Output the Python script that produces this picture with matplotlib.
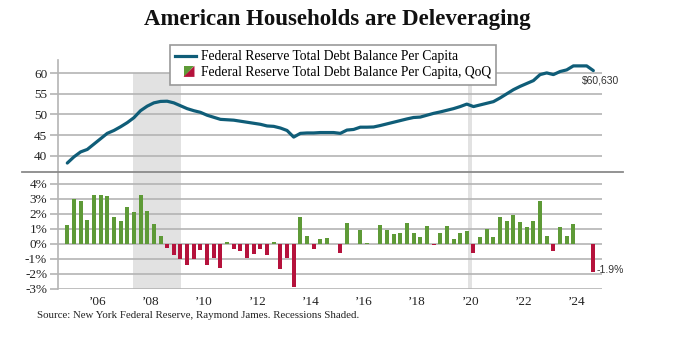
import matplotlib
matplotlib.use("Agg")
import matplotlib.pyplot as plt
from matplotlib.legend_handler import HandlerBase
from matplotlib.lines import Line2D
from matplotlib.patches import Polygon
import numpy as np

# quarterly, 2004 Q4 .. 2024 Q3
debt_per_capita = [
    38.2, 39.7, 40.9, 41.5, 42.8, 44.1, 45.4, 46.1, 47.0, 48.0,
    49.2, 50.9, 52.0, 52.8, 53.15, 53.2, 52.8, 52.1, 51.4, 50.9,
    50.5, 49.8, 49.3, 48.8, 48.7, 48.6, 48.35, 48.1, 47.85, 47.6,
    47.2, 47.1, 46.7, 46.1, 44.5, 45.4, 45.5, 45.5, 45.6, 45.6,
    45.6, 45.4, 46.2, 46.35, 46.9, 46.9, 46.95, 47.3, 47.7, 48.1,
    48.5, 48.9, 49.25, 49.35, 49.8, 50.25, 50.6, 51.0, 51.4, 51.9,
    52.5, 51.9, 52.3, 52.7, 53.1, 54.0, 55.0, 56.0, 56.8, 57.5,
    58.2, 59.66, 60.07, 59.66, 60.4, 60.8, 61.77, 61.77, 61.77, 60.63,
]
qoq_pct = [
    1.22, 2.96, 2.87, 1.58, 3.27, 3.27, 3.16, 1.76, 1.53, 2.44,
    2.11, 3.27, 2.18, 1.29, 0.51, -0.27, -0.73, -1.0, -1.4, -1.0,
    -0.44, -1.4, -0.96, -1.62, 0.13, -0.33, -0.47, -0.96, -0.69, -0.33,
    -0.76, 0.11, -1.69, -0.93, -2.89, 1.78, 0.51, -0.38, 0.29, 0.36,
    0.0, -0.6, 1.36, 0.0, 0.93, 0.07, 0.0, 1.24, 0.89, 0.62,
    0.69, 1.38, 0.73, 0.44, 1.2, -0.1, 0.69, 1.18, 0.33, 0.73,
    0.87, -0.6, 0.44, 1.0, 0.44, 1.8, 1.49, 1.93, 1.44, 1.11,
    1.51, 2.84, 0.53, -0.47, 1.13, 0.53, 1.31, 0.0, -0.05, -1.91,
]
year_labels = ["\u201906", "\u201908", "\u201910", "\u201912", "\u201914",
               "\u201916", "\u201918", "\u201920", "\u201922", "\u201924"]
first_label_pos = 4.55  # quarter index of the first year label
recessions = [(9.9, 17.07), (60.2, 60.8)]

TEAL = "#0f5d78"
GREEN = "#5e9a37"
RED = "#b5123c"
GRID = "#b4b4b4"
SHADE = "#e2e2e2"
SERIF = "Liberation Serif"
SANS = "Liberation Sans"

x = np.arange(len(debt_per_capita))
qoq = np.array(qoq_pct)


class SplitProxy:
    pass


class SplitSquare(HandlerBase):
    def create_artists(self, legend, orig_handle, xdescent, ydescent,
                       width, height, fontsize, trans):
        s = height * 1.15
        x0 = -xdescent + width - s - 1
        y0 = -ydescent + (height - s) / 2
        g = Polygon([(x0, y0), (x0, y0 + s), (x0 + s, y0 + s)], closed=True,
                    fc=GREEN, ec="none", transform=trans)
        r = Polygon([(x0, y0), (x0 + s, y0 + s), (x0 + s, y0)], closed=True,
                    fc=RED, ec="none", transform=trans)
        return [g, r]


W, H = 680, 360
fig = plt.figure(figsize=(W / 100, H / 100), dpi=100)
left = 58.3 / W
width = (602 - 58.3) / W
sep = 1 - 171.7 / H
ax1 = fig.add_axes([left, sep, width, (171.7 - 60) / H])
ax2 = fig.add_axes([left, 1 - 288.7 / H, width, (288.7 - 171.7) / H])

xlim = (-1.35, 80.3)
for ax in (ax1, ax2):
    ax.set_xlim(*xlim)
    for side in ("top", "right", "bottom"):
        ax.spines[side].set_visible(False)
    ax.spines["left"].set_color(GRID)
    ax.spines["left"].set_linewidth(1.2)
    ax.set_facecolor("none")
    ax.tick_params(axis="y", length=6, width=1.2, color=GRID, pad=2,
                   labelsize=9.5, labelcolor="#222222")

# top panel
ylo, yhi = 36.1, 63.2
ax1.set_ylim(ylo, yhi)
ax1.set_yticks([40, 45, 50, 55, 60])
ax1.set_yticklabels(["40", "45", "50", "55", "60"], family=SERIF)
ax1.set_xticks([])
for a, b in recessions:
    ax1.axvspan(a, b, ymin=0, ymax=(60 - ylo) / (yhi - ylo), color=SHADE, lw=0, zorder=0)
for v in [40, 45, 50, 55, 60]:
    ax1.axhline(v, color=GRID, lw=1.2, zorder=1)
ax1.plot(x, debt_per_capita, color=TEAL, lw=2.3, zorder=3, solid_capstyle="round")
ax1.text(x[-1] - 1.7, debt_per_capita[-1] - 2.3,
         "\\$" + f"{debt_per_capita[-1] * 1000:,.0f}",
         family=SANS, fontsize=7.5, color="#333333", ha="left", va="center")

# bottom panel
ax2.set_ylim(-3, 4.8)
pct_ticks = [4, 3, 2, 1, 0, -1, -2, -3]
ax2.set_yticks(pct_ticks)
ax2.set_yticklabels([f"{t}%" for t in pct_ticks], family=SERIF)
for a, b in recessions:
    ax2.axvspan(a, b, color=SHADE, lw=0, zorder=0)
for v in pct_ticks:
    ax2.axhline(v, color=GRID, lw=1.2, zorder=1)
colors = [GREEN if v >= 0 else RED for v in qoq]
ax2.bar(x, qoq, width=0.6, color=colors, zorder=3)
ax2.text(x[-1] + 0.45, qoq[-1] + 0.15, f"{qoq[-1]:.1f}%",
         family=SANS, fontsize=7.5, color="#333333", ha="left", va="center")
ax2.set_xticks(first_label_pos + 8 * np.arange(len(year_labels)))
ax2.set_xticklabels(year_labels, family=SERIF, fontsize=9.5, color="#222222")
ax2.tick_params(axis="x", length=0, pad=5)

# separator line between panels
fig.add_artist(Line2D([22 / W, 623 / W], [sep, sep], color="#8a8a8a", lw=1.3))

# legend
handles = [Line2D([], [], color=TEAL, lw=2.3), SplitProxy()]
labels = ["Federal Reserve Total Debt Balance Per Capita",
          "Federal Reserve Total Debt Balance Per Capita, QoQ"]
leg = fig.legend(handles, labels, loc="upper left",
                 bbox_to_anchor=(170 / W, 1 - 45 / H), borderaxespad=0,
                 handler_map={SplitProxy: SplitSquare()},
                 prop={"family": SERIF, "size": 9.8}, frameon=True, fancybox=False,
                 edgecolor="#999999", framealpha=1, borderpad=0.4,
                 handlelength=1.5, handletextpad=0.35, labelspacing=0.2)
leg.get_frame().set_linewidth(1.2)

fig.text(337 / W, 1 - 19 / H, "American Households are Deleveraging",
         family=SERIF, fontweight="bold", fontsize=16.5, ha="center", va="center",
         color="#111111")
fig.text(37 / W, 1 - 315.7 / H,
         "Source: New York Federal Reserve, Raymond James. Recessions Shaded.",
         family=SERIF, fontsize=7.8, ha="left", va="center", color="#222222")

fig.savefig("out.png", dpi=100)
